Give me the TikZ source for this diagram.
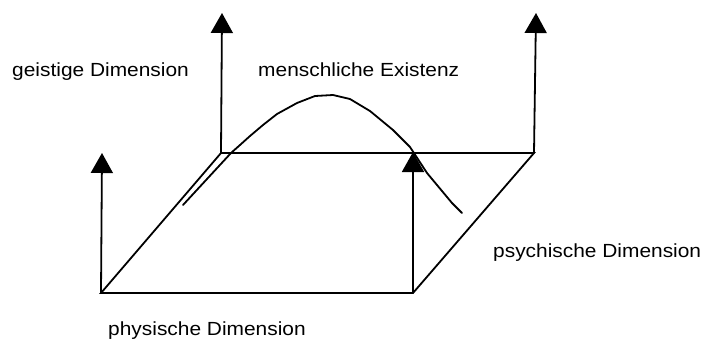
\documentclass[tikz,border=0pt]{standalone}
\usepackage{fontspec}
\setmainfont{Liberation Sans}
\usetikzlibrary{arrows.meta}
\tikzset{
  edge/.style={line width=1.8pt, line cap=butt, line join=miter},
  axis/.style={line width=1.8pt, -{Triangle[width=22pt,length=20pt]}},
  curveline/.style={line width=1.8pt, line join=round, line cap=round},
  lbl/.style={anchor=base west, inner sep=0pt, xscale=1.1, font=\fontsize{19}{22}\selectfont}
}
\begin{document}
\begin{tikzpicture}[x=1pt,y=-1pt]
\useasboundingbox (0,0) rectangle (709,338);
% corners of the plane
\coordinate (A) at (101,293);
\coordinate (B) at (413,293);
\coordinate (C) at (534,153);
\coordinate (D) at (221,153);
% arrow tips
\coordinate (tA) at (102,153);
\coordinate (tB) at (413,152);
\coordinate (tC) at (536,13);
\coordinate (tD) at (222,13);
% plane
\draw[edge] (A) -- (B) -- (C) -- (D) -- cycle;
% vertical axes
\draw[axis] (A) -- (tA);
\draw[axis] (B) -- (tB);
\draw[axis] (C) -- (tC);
\draw[axis] (D) -- (tD);
% curve of human existence
\coordinate (s) at (183,205);
\coordinate (e) at (462,213);
\draw[curveline] (s) -- (231,153) -- (240,145) -- (250,136) -- (263,125) -- (277,114) -- (297,103) -- (315,96) -- (333,95) -- (350,99) -- (370,111) -- (393,130) -- (410,147) -- (427,173) -- (452,203) -- (e);
% labels
\node[lbl] (geist) at (12,76) {geistige Dimension};
\node[lbl] (mensch) at (258,76) {menschliche Existenz};
\node[lbl] (psych) at (493,257) {psychische Dimension};
\node[lbl] (phys) at (108,335) {physische Dimension};
\end{tikzpicture}
\end{document}
